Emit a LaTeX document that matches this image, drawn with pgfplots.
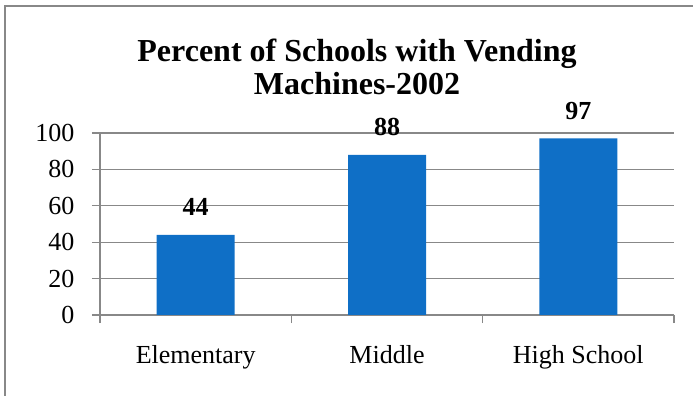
\documentclass[border=0pt]{standalone}
\usepackage{fontspec}
\setmainfont{Liberation Serif}
\usepackage{pgfplots}
\pgfplotsset{compat=1.18}
\definecolor{barblue}{HTML}{0F6FC6}
\definecolor{axgray}{HTML}{888888}
\begin{document}
\begin{tikzpicture}
\path[use as bounding box] (0pt,0pt) rectangle (693pt,396pt);
\draw[axgray, line width=2.5pt] (5pt,0pt) -- (5pt,390pt) -- (693pt,390pt);
\node[font=\bfseries\fontsize{32}{33}\selectfont, align=center] at (357pt,329pt) {Percent of Schools with Vending\\Machines-2002};
\begin{axis}[
  at={(100pt,81pt)}, anchor=south west,
  scale only axis, width=574pt, height=182pt,
  ymin=0, ymax=100, ytick={0,20,...,100},
  xmin=-0.5, xmax=2.5, xtick={0,1,2},
  xticklabels={Elementary,Middle,High School},
  minor xtick={-0.5,0.5,1.5,2.5},
  axis x line*=bottom, axis y line*=left,
  axis line style={axgray, line width=1.3pt},
  ymajorgrids, grid style={axgray, line width=1.3pt},
  tick align=outside, major tick length=8pt, minor tick length=8pt,
  major x tick style={draw=none},
  minor x tick style={axgray, line width=1.3pt},
  y tick style={axgray, line width=1.3pt},
  tick label style={font=\fontsize{26}{30}\selectfont},
  /pgf/number format/assume math mode=true,
  xticklabel style={yshift=-19pt},
  yticklabel style={xshift=-14pt},
  ybar, bar width=78pt,
  nodes near coords,
  nodes near coords style={font=\bfseries\fontsize{26}{30}\selectfont, anchor=base, yshift=19pt},
]
\addplot[fill=barblue, draw=none] coordinates {(0,44) (1,88) (2,97)};
\end{axis}
\end{tikzpicture}
\end{document}
